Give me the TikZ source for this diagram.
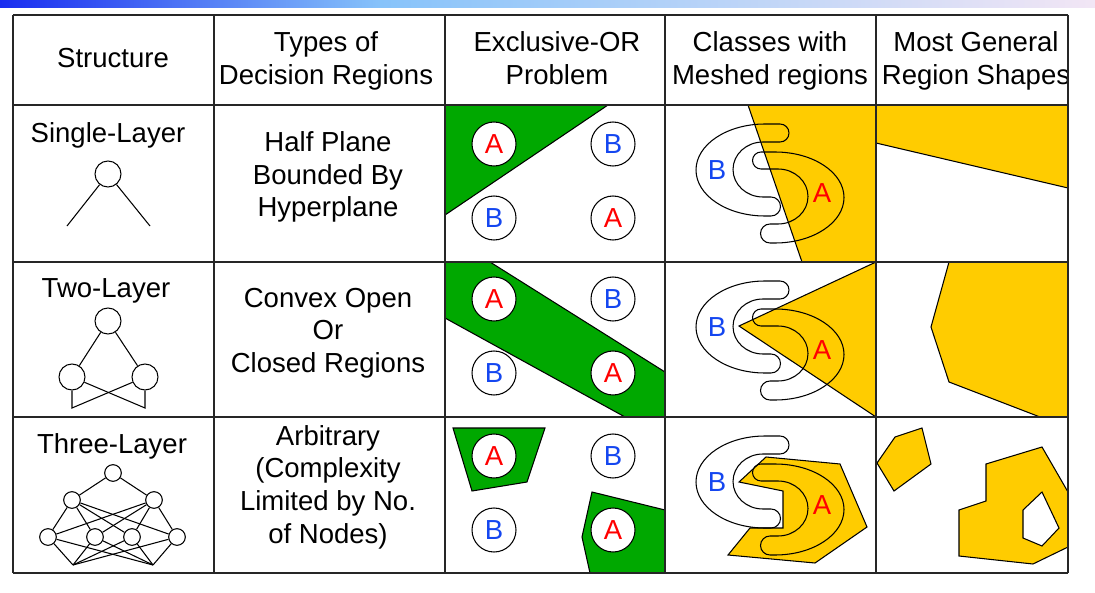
\documentclass[tikz,border=0pt]{standalone}
\usepackage{fontspec}
\setmainfont{Liberation Sans}
\definecolor{xorgreen}{RGB}{0,168,0}
\definecolor{meshyellow}{RGB}{255,204,0}
\definecolor{labelred}{RGB}{255,0,0}
\definecolor{labelblue}{RGB}{20,70,240}
\definecolor{bardeep}{RGB}{25,45,240}
\definecolor{barsky}{RGB}{135,195,250}
\definecolor{barpale}{RGB}{242,230,245}
\tikzset{
  every node/.style={font=\fontsize{23.5}{27.9}\selectfont},
  cell/.style={align=center},
  neuron/.style={circle,draw,line width=0.9pt,inner sep=0pt,minimum size=0.78cm},
  smallneuron/.style={neuron,minimum size=0.5cm},
  classA/.style={circle,draw,line width=0.9pt,fill=white,inner sep=0pt,minimum size=1.32cm,text=labelred},
  classB/.style={classA,text=labelblue},
  region/.style={draw,line width=0.9pt},
  netline/.style={line width=0.9pt},
  gridline/.style={line width=1.4pt,draw=black!85}
}
\begin{document}
\begin{tikzpicture}[x=0.03cm,y=-0.03cm]
    \useasboundingbox (0,0) rectangle (1095,593);
    %%draw the title bar
    \shade[left color=bardeep,right color=barsky] (0,1) rectangle (381,8);
    \shade[left color=barsky,right color=barpale] (380,1) rectangle (1095,8);

    %%draw the headers
    \node[cell] (hstruct) at (113,58){Structure};
    \node[cell] (htypes) at (326,60.7){Types of\\Decision Regions};
    \node[cell] (hxor) at (557,58){Exclusive-OR\\Problem};
    \node[cell] (hmesh) at (770,60.7){Classes with\\Meshed regions};
    \node[cell] (hgeneral) at (976,60.7){Most General\\Region Shapes};

    %%structure column
    \node (single) at (108,135.7){Single-Layer};
    \node (two) at (106,290.7){Two-Layer};
    \node (three) at (112,446.7){Three-Layer};

    \node[neuron] (sout) at (108,174){};
    \coordinate (sin1) at (67,226);
    \coordinate (sin2) at (150,226);
    \draw[netline] (sout) -- (sin1);
    \draw[netline] (sout) -- (sin2);

    \node[neuron] (tout) at (108,321){};
    \node[neuron] (th1) at (72,377){};
    \node[neuron] (th2) at (145,377){};
    \coordinate (tin1) at (72,408);
    \coordinate (tin2) at (145,408);
    \draw[netline] (tout) -- (th1);
    \draw[netline] (tout) -- (th2);
    \draw[netline] (th1) -- (tin2) -- (th2);
    \draw[netline] (th2) -- (tin1) -- (th1);

    \node[smallneuron] (rout) at (113,473){};
    \node[smallneuron] (rh1) at (72,500){};
    \node[smallneuron] (rh2) at (154,500){};
    \foreach \name/\x in {rg1/48,rg2/95,rg3/132,rg4/177}
        \node[smallneuron] (\name) at (\x,537){};
    \coordinate (rin1) at (73,565);
    \coordinate (rin2) at (153,565);
    \foreach \g in {rg1,rg2,rg3,rg4}{
        \draw[netline] (\g) -- (rh1);
        \draw[netline] (\g) -- (rh2);
        \draw[netline] (\g) -- (rin1);
        \draw[netline] (\g) -- (rin2);
    }
    \draw[netline] (rout) -- (rh1);
    \draw[netline] (rout) -- (rh2);

    %%types column
    \node[cell] (half) at (328,177){Half Plane\\Bounded By\\Hyperplane};
    \node[cell] (convex) at (328,333){Convex Open\\Or\\Closed Regions};
    \node[cell] (arbitrary) at (328,487){Arbitrary\\(Complexity\\Limited by No.\\of Nodes)};

    %%exclusive-or column
    \filldraw[region,fill=xorgreen] (445,105) -- (608,105) -- (445,215) -- cycle;
    \filldraw[region,fill=xorgreen] (490,262) -- (665,372) -- (665,417) -- (625,417) -- (445,318) -- (445,262) -- cycle;
    \filldraw[region,fill=xorgreen] (453,428) -- (545,428) -- (527,482) -- (472,491) -- cycle;
    \filldraw[region,fill=xorgreen] (592,492) -- (665,510) -- (665,573) -- (590,573) -- (582,537) -- cycle;
    \foreach \r/\ya/\yb in {1/144/218,2/299/373,3/456/530}{
        \node[classA] (xa\r) at (494,\ya){A};
        \node[classB] (xb\r) at (613,\ya){B};
        \node[classB] (xc\r) at (494,\yb){B};
        \node[classA] (xd\r) at (613,\yb){A};
    }

    %%meshed column
    \filldraw[region,fill=meshyellow] (748,105) -- (876,105) -- (876,262) -- (802,262) -- cycle;
    \filldraw[region,fill=meshyellow] (739,326) -- (876,262) -- (876,417) -- cycle;
    \filldraw[region,fill=meshyellow] (766,457) -- (840,464) -- (867,527) -- (815,563) -- (728,555) -- (750,528) -- (783,528) -- (783,491) -- (739,482) -- cycle;
    \foreach \r/\t in {1/105,2/262,3/417}{
        \draw[netline] (765,\t+19) -- (780,\t+19) arc[start angle=-90,end angle=90,radius=9]
            -- (763,\t+37) arc[start angle=-90,end angle=-270,x radius=30,y radius=27.5]
            -- (771,\t+92) arc[start angle=-90,end angle=90,radius=9.5]
            -- (765,\t+111) arc[start angle=90,end angle=270,x radius=69,y radius=46] -- cycle;
        \draw[netline] (775,\t+47) -- (761,\t+47) arc[start angle=-90,end angle=-270,radius=8.5]
            -- (778,\t+64) arc[start angle=-90,end angle=90,x radius=30,y radius=27.5]
            -- (770,\t+119) arc[start angle=-90,end angle=-270,radius=9.5]
            -- (775,\t+138) arc[start angle=90,end angle=-90,x radius=69,y radius=45.5] -- cycle;
        \node[text=labelblue] (mb\r) at (717,\t+65){B};
        \node[text=labelred] (ma\r) at (822,\t+88){A};
    }

    %%general column
    \filldraw[region,fill=meshyellow] (876,105) -- (1068,105) -- (1068,188) -- (876,143) -- cycle;
    \filldraw[region,fill=meshyellow] (949,262) -- (1068,262) -- (1068,417) -- (1040,417) -- (949,382) -- (931,327) -- cycle;
    \filldraw[region,fill=meshyellow] (877,463) -- (895,437) -- (922,428) -- (931,464) -- (894,491) -- cycle;
    \filldraw[region,fill=meshyellow,even odd rule] (986,464) -- (1042,447) -- (1068,492) -- (1068,547) -- (1033,564) -- (959,556) -- (959,510) -- (986,501) -- cycle
        (1042,492) -- (1059,528) -- (1042,546) -- (1023,538) -- (1023,510) -- cycle;

    %%draw the grid
    \foreach \x in {13,214,445,665,876,1068}
        \draw[gridline] (\x,15) -- (\x,573);
    \foreach \y in {15,105,262,417,573}
        \draw[gridline] (13,\y) -- (1068,\y);
\end{tikzpicture}
\end{document}
